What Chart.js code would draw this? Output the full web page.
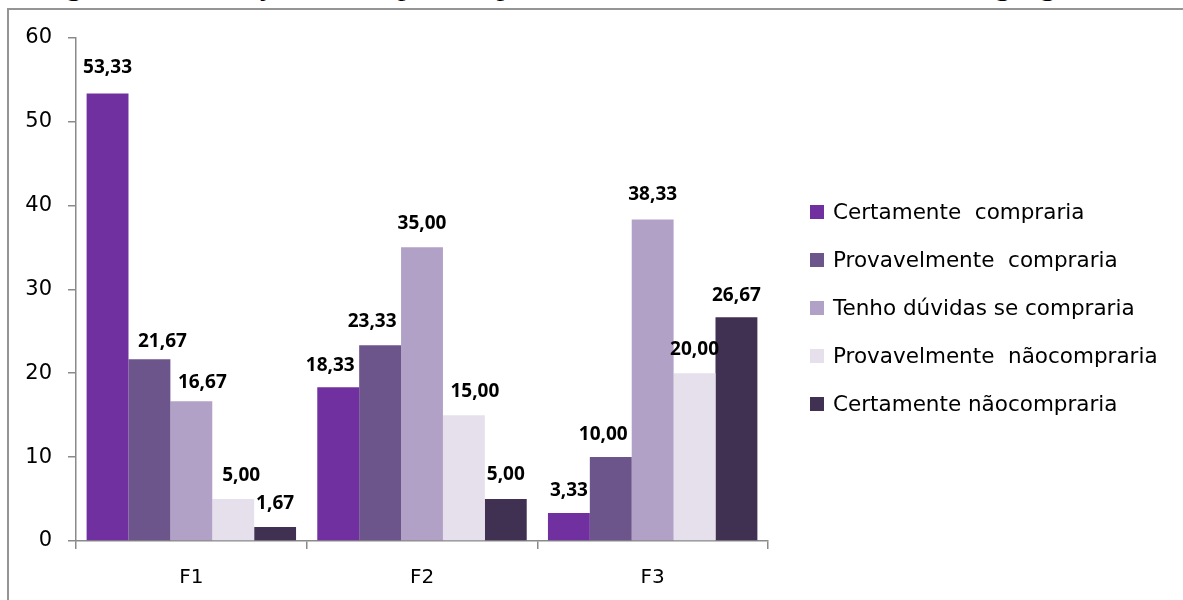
<!DOCTYPE html>
<html lang="pt">
<head>
<meta charset="utf-8">
<title>Intenção de compra</title>
<script src="https://cdn.jsdelivr.net/npm/chart.js@4.4.1/dist/chart.umd.min.js"></script>
<style>
  html, body { margin: 0; padding: 0; background: #fff; overflow: hidden; width: 1183px; height: 600px; }
  #caption { position: absolute; left: 40px; top: -24px; font: 26px "Liberation Serif", serif; line-height: 24px; white-space: nowrap; color: #000; transform: scaleX(1.2); transform-origin: 0 0; }
  #frame { position: absolute; left: 7px; top: 8px; width: 1240px; height: 660px; border: 2px solid #959595; box-sizing: border-box; }
  #wrap { position: absolute; left: 8px; top: 9px; width: 1190px; height: 620px; }
  #c { width: 1190px; height: 620px; }
</style>
</head>
<body>
<div id="caption">Figura 13 – Intenção de compra dos provadores das bebidas mistas de uva e gengibre.</div>
<div id="frame"></div>
<div id="wrap"><canvas id="c" width="1190" height="620"></canvas></div>
<script>
// Formulations on the x axis
const categories = ['F1', 'F2', 'F3'];

// Answer categories (legend order)
const seriesNames = [
  'Certamente  compraria',
  'Provavelmente  compraria',
  'Tenho dúvidas se compraria',
  'Provavelmente  nãocompraria',
  'Certamente nãocompraria'
];

// Percent of tasters per answer, for F1, F2, F3
const certamenteCompraria    = [53.33, 18.33, 3.33];
const provavelmenteCompraria = [21.67, 23.33, 10.00];
const tenhoDuvidas           = [16.67, 35.00, 38.33];
const provavelmenteNao       = [5.00, 15.00, 20.00];
const certamenteNao          = [1.67, 5.00, 26.67];

// Value axis ticks
const yTicks = [0, 10, 20, 30, 40, 50, 60];

const seriesColors = ['#7030A0', '#6C558B', '#B2A1C7', '#E6E0EC', '#403152'];

// Small hand nudges [dx, dy] for value labels that would otherwise crowd each other
const labelShift = [
  [[0, 3], [-8, -1.3], [0, -0.3]],
  [[13, -4.5], [-8, 0.7], [-7.5, -0.3]],
  [[11, -3.7], [0, 1.3], [0, 2.3]],
  [[8, 1], [11, 0.7], [0, 0.7]],
  [[0, 0.7], [0, 2], [0, -1]]
];

const seriesValues = [certamenteCompraria, provavelmenteCompraria, tenhoDuvidas, provavelmenteNao, certamenteNao];

const fmt = v => v.toFixed(2).replace('.', ',');

// Legend layout (to the right of the plot)
const LEGEND_FONT = '21.5px "DejaVu Sans"';
const LEGEND_BOX = 14;
const LEGEND_X = 42;      // from plot right edge to the colour boxes
const LEGEND_ROW = 48;    // row pitch
const LEGEND_DY = 19;     // legend centre below plot centre
const TEXT_GAP = 9;

// Draws each bar's value above it, in Portuguese decimal notation
const valueLabels = {
  id: 'valueLabels',
  afterDatasetsDraw(chart) {
    const ctx = chart.ctx;
    ctx.save();
    ctx.font = 'bold 19px "Open Sans"';
    ctx.fillStyle = '#000';
    ctx.textAlign = 'center';
    ctx.textBaseline = 'middle';
    chart.data.datasets.forEach((ds, i) => {
      chart.getDatasetMeta(i).data.forEach((bar, j) => {
        const s = labelShift[i][j];
        ctx.fillText(fmt(ds.data[j]), bar.x + s[0], bar.y - 22.5 - s[1]);
      });
    });
    ctx.restore();
  }
};

// Legend column beside the plot, built from the datasets
const sideLegend = {
  id: 'sideLegend',
  afterDraw(chart) {
    const ctx = chart.ctx;
    const area = chart.chartArea;
    const sets = chart.data.datasets;
    const x = area.right + LEGEND_X;
    const mid = (area.top + area.bottom) / 2 + LEGEND_DY;
    ctx.save();
    ctx.font = LEGEND_FONT;
    ctx.textAlign = 'left';
    ctx.textBaseline = 'middle';
    sets.forEach((ds, i) => {
      const y = mid + (i - (sets.length - 1) / 2) * LEGEND_ROW;
      ctx.fillStyle = ds.backgroundColor;
      ctx.fillRect(x, Math.round(y - LEGEND_BOX / 2), LEGEND_BOX, LEGEND_BOX);
      ctx.fillStyle = '#000';
      ctx.fillText(ds.label, x + LEGEND_BOX + TEXT_GAP, y + 1);
    });
    ctx.restore();
  }
};

const axisGrey = '#8a8a8a';

new Chart(document.getElementById('c'), {
  type: 'bar',
  data: {
    labels: categories,
    datasets: seriesNames.map((name, i) => ({
      label: name,
      data: seriesValues[i],
      backgroundColor: seriesColors[i],
      borderWidth: 0,
      barPercentage: 1,
      categoryPercentage: 0.908
    }))
  },
  options: {
    responsive: false,
    animation: false,
    devicePixelRatio: 1,
    layout: { padding: { top: 28, bottom: 28, left: 0, right: 430 } },
    scales: {
      x: {
        grid: { display: true, drawOnChartArea: false, drawTicks: true, tickLength: 8, color: axisGrey, lineWidth: 1.5, offset: true },
        border: { display: true, color: axisGrey, width: 1.5 },
        ticks: { color: '#000', font: { family: 'DejaVu Sans', size: 20 }, padding: 17 },
        afterFit(scale) { scale.height = 60; }
      },
      y: {
        min: 0,
        max: 60,
        grid: { display: true, drawOnChartArea: false, drawTicks: true, tickLength: 8, color: axisGrey, lineWidth: 1.5 },
        border: { display: true, color: axisGrey, width: 1.5 },
        ticks: { color: '#000', font: { family: 'DejaVu Sans', size: 21 }, padding: 16 },
        afterBuildTicks(scale) { scale.ticks = yTicks.map(v => ({ value: v })); },
        afterFit(scale) { scale.width = 68; }
      }
    },
    plugins: {
      legend: { display: false },
      tooltip: { enabled: false }
    }
  },
  plugins: [valueLabels, sideLegend]
});
</script>
</body>
</html>
